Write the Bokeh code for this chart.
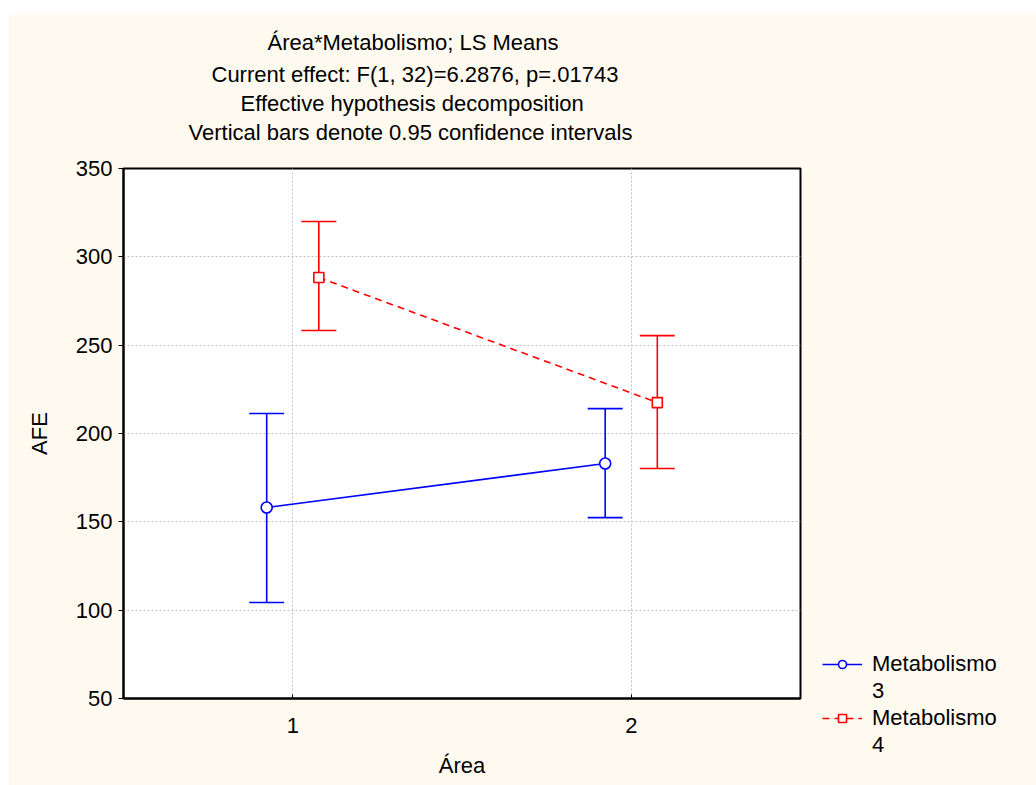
from bokeh.plotting import figure
from bokeh.models import (ColumnDataSource, Whisker, TeeHead, Legend, LegendItem,
                          FixedTicker, Range1d, Title, Spacer)
from bokeh.layouts import row, column
from bokeh.transform import dodge
from bokeh.embed import file_html
from bokeh.resources import INLINE

# ---- data ----
area = [1, 2]
m3_mean = [158.1, 183.0]
m3_low = [104.3, 152.4]
m3_high = [211.3, 214.1]
m4_mean = [288.3, 217.5]
m4_low = [258.3, 180.2]
m4_high = [320.0, 255.4]
y_ticks = [50, 100, 150, 200, 250, 300, 350]
x_ticks = [1, 2]
title_lines = [
    "Área*Metabolismo; LS Means",
    "Current effect: F(1, 32)=6.2876, p=.01743",
    "Effective hypothesis decomposition",
    "Vertical bars denote 0.95 confidence intervals",
]
legend_name = "Metabolismo"
legend_levels = ["3", "4"]

FONT = "Liberation Sans"
FS = "22px"
CREAM = "#fffaf0"
BLUE = "#0000ff"
RED = "#ff0000"

src3 = ColumnDataSource(dict(x=area, y=m3_mean, lo=m3_low, hi=m3_high))
src4 = ColumnDataSource(dict(x=area, y=m4_mean, lo=m4_low, hi=m4_high))

p = figure(frame_width=677, frame_height=530, output_backend="svg", toolbar_location=None,
           x_range=Range1d(0.5, 2.5), y_range=Range1d(50, 350),
           min_border_left=115, min_border_right=236, min_border_top=154,
           min_border_bottom=87)
p.border_fill_color = CREAM
p.background_fill_color = "white"
p.outline_line_color = "black"
p.outline_line_width = 2

# axes
for ax in (p.xaxis[0], p.yaxis[0]):
    ax.axis_line_width = 2
    ax.axis_line_color = "black"
    ax.major_label_text_font = FONT
    ax.major_label_text_font_size = FS
    ax.major_label_text_color = "black"
    ax.axis_label_text_font = FONT
    ax.axis_label_text_font_size = FS
    ax.axis_label_text_font_style = "normal"
    ax.axis_label_text_color = "black"
    ax.minor_tick_line_color = None

p.xaxis.ticker = FixedTicker(ticks=x_ticks)
p.yaxis.ticker = FixedTicker(ticks=y_ticks)
p.xaxis.major_tick_in = 4
p.xaxis.major_tick_out = 0
p.xaxis.major_label_standoff = 19
p.xaxis.axis_label = "Área"
p.xaxis.axis_label_standoff = 17
p.yaxis.major_tick_in = 0
p.yaxis.major_tick_out = 5
p.yaxis.major_label_standoff = 6
p.yaxis.axis_label = "AFE"
p.yaxis.axis_label_standoff = 21

p.grid.grid_line_color = "#c0c0c0"
p.grid.grid_line_dash = "2 2"
p.grid.grid_line_width = 1

# series
x3 = dodge("x", -0.077, range=p.x_range)
x4 = dodge("x", 0.077, range=p.x_range)

l3 = p.line(x=x3, y="y", source=src3, line_color=BLUE, line_width=1.6)
l4 = p.line(x=x4, y="y", source=src4, line_color=RED, line_width=1.6, line_dash="7 5")

w3 = Whisker(base=x3, upper="hi", lower="lo", source=src3, line_color=BLUE, line_width=1.6,
             upper_head=TeeHead(size=35, line_color=BLUE, line_width=1.6),
             lower_head=TeeHead(size=35, line_color=BLUE, line_width=1.6))
w4 = Whisker(base=x4, upper="hi", lower="lo", source=src4, line_color=RED, line_width=1.6,
             upper_head=TeeHead(size=35, line_color=RED, line_width=1.6),
             lower_head=TeeHead(size=35, line_color=RED, line_width=1.6))
p.add_layout(w3)
p.add_layout(w4)

s3 = p.scatter(x=x3, y="y", source=src3, marker="circle", size=11, fill_color="white",
               line_color=BLUE, line_width=1.6)
s4 = p.scatter(x=x4, y="y", source=src4, marker="square", size=10, fill_color="white",
               line_color=RED, line_width=1.6)
# invisible helper renderer used only for the second line of each legend label
blank = p.scatter(x=x3, y="y", source=src3, size=0, alpha=0)

# title lines: first added sits nearest the frame (a blank spacer title first)
p.add_layout(Title(text=" ", text_font_size="1px", standoff=21,
                   background_fill_alpha=0), "above")
standoffs = [10, 0, 4, 0]
offsets = [144, 88, 117, 65]
for txt, so, off in reversed(list(zip(title_lines, standoffs, offsets))):
    p.add_layout(Title(text=txt, align="left", offset=off, standoff=so,
                       text_font=FONT, text_font_size=FS, text_font_style="normal",
                       text_color="black"), "above")

legend = Legend(items=[LegendItem(label=legend_name, renderers=[l3, s3]),
                       LegendItem(label=legend_levels[0], renderers=[blank]),
                       LegendItem(label=legend_name, renderers=[l4, s4]),
                       LegendItem(label=legend_levels[1], renderers=[blank])],
                location=(22, -60), glyph_width=40, glyph_height=20, label_standoff=10,
                padding=0, margin=0, spacing=1, border_line_color=None,
                background_fill_alpha=0, label_text_font=FONT,
                label_text_font_size=FS, label_text_color="black")
p.add_layout(legend, "right")

layout = row(Spacer(width=8), column(Spacer(height=14), p))
open("out.html", "w").write(file_html(layout, INLINE))
